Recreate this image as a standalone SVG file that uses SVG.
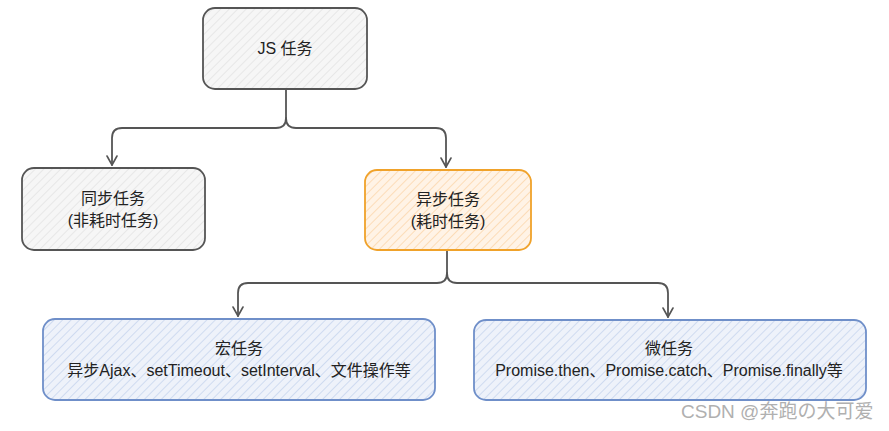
<svg xmlns="http://www.w3.org/2000/svg" width="889" height="431" viewBox="0 0 889 431">
<style>
.box{stroke-width:1.8;stroke-linejoin:round}
.gray{fill:url(#hg);stroke:#555}
.orange{fill:url(#ho);stroke:#f0a22a}
.blue{fill:url(#hb);stroke:#6f8fc9}
.t{font-family:"Liberation Sans","Noto Sans CJK SC",sans-serif;font-size:16px;fill:#222;text-anchor:middle}
.conn{fill:none;stroke:#555;stroke-width:1.8;stroke-linecap:round;stroke-linejoin:round}
.wm{font-family:"Liberation Sans","Noto Sans CJK SC",sans-serif;font-size:19px;fill:#b0b0b0}
</style>
<defs>
<pattern id="hg" width="6" height="6" patternUnits="userSpaceOnUse" patternTransform="rotate(45)">
<rect width="6" height="6" fill="#f6f6f6"/><line x1="0" y1="0" x2="0" y2="6" stroke="#dedede" stroke-width="1.2"/>
</pattern>
<pattern id="ho" width="6" height="6" patternUnits="userSpaceOnUse" patternTransform="rotate(45)">
<rect width="6" height="6" fill="#fff3e6"/><line x1="0" y1="0" x2="0" y2="6" stroke="#fbd0a0" stroke-width="1.3"/>
</pattern>
<pattern id="hb" width="6" height="6" patternUnits="userSpaceOnUse" patternTransform="rotate(45)">
<rect width="6" height="6" fill="#eef2fa"/><line x1="0" y1="0" x2="0" y2="6" stroke="#bfcfeb" stroke-width="1.3"/>
</pattern>
<marker id="arr" viewBox="0 0 12 12" refX="11" refY="6" markerWidth="12" markerHeight="12" markerUnits="userSpaceOnUse" orient="auto">
<path d="M2 1 L11 6 L2 11" fill="none" stroke="#555" stroke-width="1.6" stroke-linejoin="round" stroke-linecap="round"/>
</marker>
</defs>
<g id="connectors">
<path class="conn" d="M286 90 V118 Q286 128 276 128 H122 Q112 128 112 138 V165" marker-end="url(#arr)"/>
<path class="conn" d="M286 118 Q286 128 296 128 H436 Q446 128 446 138 V167" marker-end="url(#arr)"/>
<path class="conn" d="M447 250 V273 Q447 283 437 283 H248 Q238 283 238 293 V316" marker-end="url(#arr)"/>
<path class="conn" d="M447 273 Q447 283 457 283 H658 Q668 283 668 293 V317" marker-end="url(#arr)"/>
</g>
<g id="js">
<rect class="box gray" x="203" y="8" width="164" height="81" rx="12"/>
<text class="t" x="285" y="54">JS 任务</text>
</g>
<g id="sync">
<rect class="box gray" x="22" y="168" width="183" height="82" rx="12"/>
<text class="t" x="113" y="204">同步任务</text>
<text class="t" x="113" y="226">(非耗时任务)</text>
</g>
<g id="async">
<rect class="box orange" x="365" y="170" width="166" height="80" rx="12"/>
<text class="t" x="448" y="205">异步任务</text>
<text class="t" x="448" y="227">(耗时任务)</text>
</g>
<g id="macro">
<rect class="box blue" x="43" y="319" width="392" height="81" rx="12"/>
<text class="t" x="239" y="354">宏任务</text>
<text class="t" x="239" y="376">异步Ajax、setTimeout、setInterval、文件操作等</text>
</g>
<g id="micro">
<rect class="box blue" x="474" y="320" width="392" height="80" rx="12"/>
<text class="t" x="669" y="354">微任务</text>
<text class="t" x="669" y="376">Promise.then、Promise.catch、Promise.finally等</text>
</g>
<text class="wm" x="681" y="418">CSDN @奔跑の大可爱</text>
</svg>
